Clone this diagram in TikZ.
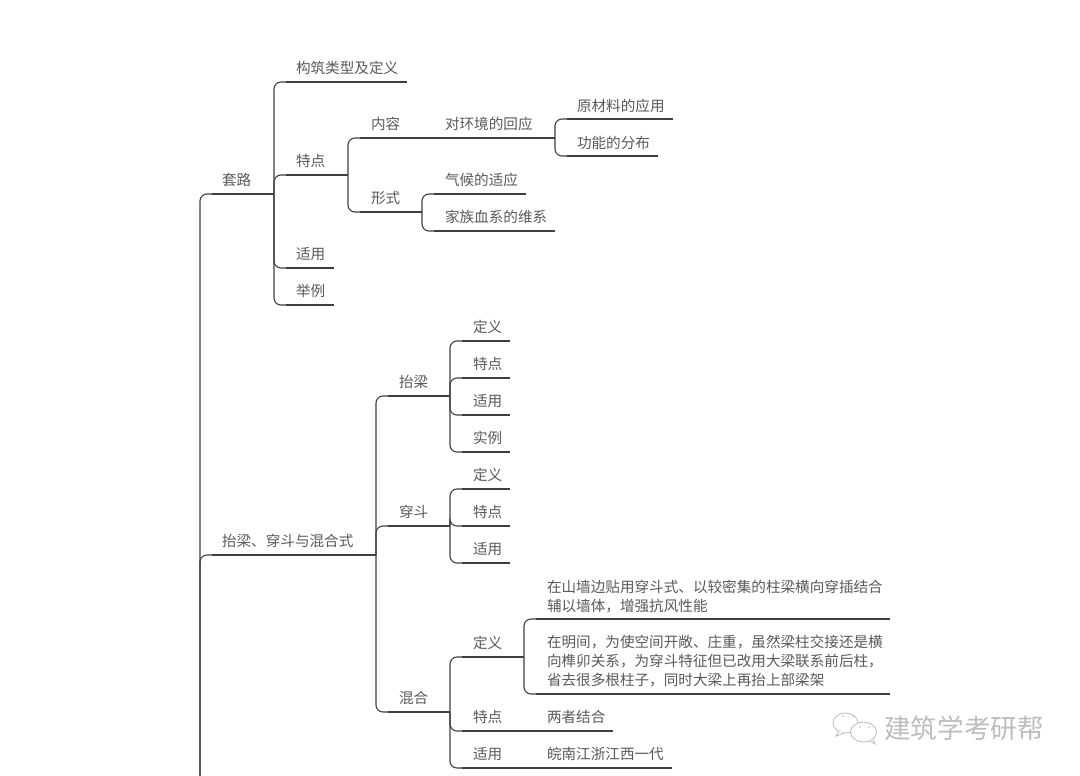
\documentclass[tikz,border=0pt]{standalone}
\usepackage{fontspec}
\setmainfont{Noto Sans CJK SC}
\definecolor{ink}{HTML}{3F3F3F}
\definecolor{txt}{HTML}{5A5A5A}
\definecolor{mark}{HTML}{BDBDBD}
\tikzset{
  topic/.style={anchor=south west,inner sep=0pt,outer sep=0pt,align=left,text=txt,
    font=\fontsize{14.6pt}{19pt}\selectfont},
  uline/.style={draw=ink,line width=1.25pt},
  link/.style={draw=ink,line width=1.1pt,rounded corners=7pt},
  wm/.style={draw=mark,line width=0.8pt,fill=white},
  wmtext/.style={inner sep=0pt,text=mark,font=\fontsize{26.6pt}{30pt}\selectfont},
  wmdot/.style={fill=mark,circle,inner sep=0pt,minimum size=1.6pt}
}
% name, x0, x1, y, text offset, height, text
\newcommand{\topic}[7]{%
  \pgfmathsetmacro{\tw}{#3-#2}%
  \node[topic,text width=\tw pt,minimum height=#6pt] (#1) at (#2,#4) {\hspace*{#5pt}#7};
  \draw[uline] (#1.south west) -- (#1.south east);
}
\newcommand{\branch}[2]{\draw[link] (#1.south east) |- (#2.south west);}
\begin{document}
\begin{tikzpicture}[x=1pt,y=-1pt]
\useasboundingbox (0,0) rectangle (1080,776);
\fill[white] (0,0) rectangle (1080,776);
\coordinate (rootend) at (200,780);
\topic{taolu}{212}{274}{194}{10}{28}{套路}
\topic{gouzhu}{286}{407}{82}{10}{28}{构筑类型及定义}
\topic{tedian}{286}{348}{175}{10}{28}{特点}
\topic{neirong}{360}{408}{138}{11}{28}{内容}
\topic{huanjing}{437}{555}{138}{8}{28}{对环境的回应}
\topic{yuancailiao}{567}{673}{119}{10}{27}{原材料的应用}
\topic{gongneng}{567}{658}{156}{10}{27}{功能的分布}
\topic{xingshi}{360}{422}{212}{11}{28}{形式}
\topic{qihou}{434}{526}{194}{11}{29}{气候的适应}
\topic{jiazu}{434}{555}{231}{11}{29}{家族血系的维系}
\topic{shiyong}{286}{334}{268}{10}{28}{适用}
\topic{juli}{286}{334}{305}{10}{28}{举例}
\topic{hunhe0}{212}{376}{555}{10}{28}{抬梁、穿斗与混合式}
\topic{tailiang}{388}{450}{396}{11}{28}{抬梁}
\topic{tlA}{462}{510}{341}{11}{28}{定义}
\topic{tlB}{462}{510}{378}{11}{28}{特点}
\topic{tlC}{462}{510}{415}{11}{28}{适用}
\topic{tlD}{462}{510}{452}{11}{28}{实例}
\topic{chuandou}{388}{450}{526}{11}{28}{穿斗}
\topic{cdA}{462}{510}{489}{11}{28}{定义}
\topic{cdB}{462}{510}{526}{11}{28}{特点}
\topic{cdC}{462}{510}{563}{11}{28}{适用}
\topic{hunhe}{388}{450}{712}{11}{28}{混合}
\topic{hhA}{462}{524}{657}{11}{28}{定义}
\topic{hhB}{462}{520}{731}{11}{28}{特点}
\topic{hhC}{462}{520}{768}{11}{28}{适用}
\topic{defA}{536}{890}{619}{11}{45}{在山墙边贴用穿斗式、以较密集的柱梁横向穿插结合\\\hspace*{11pt}辅以墙体，增强抗风性能}
\topic{defB}{536}{890}{694}{11}{66}{在明间，为使空间开敞、庄重，虽然梁柱交接还是横\\\hspace*{11pt}向榫卯关系，为穿斗特征但已改用大梁联系前后柱，\\\hspace*{11pt}省去很多根柱子，同时大梁上再抬上部梁架}
\topic{liangzhe}{528}{613}{731}{19}{28}{两者结合}
\topic{wannan}{528}{672}{768}{19}{28}{皖南江浙江西一代}
% connectors
\draw[link] (rootend) |- (taolu.south west);
\draw[link] (rootend) |- (hunhe0.south west);
\branch{taolu}{gouzhu}
\branch{taolu}{tedian}
\branch{taolu}{shiyong}
\branch{taolu}{juli}
\branch{tedian}{neirong}
\branch{tedian}{xingshi}
\draw[link] (neirong.south east) -- (huanjing.south west);
\branch{huanjing}{yuancailiao}
\branch{huanjing}{gongneng}
\branch{xingshi}{qihou}
\branch{xingshi}{jiazu}
\branch{hunhe0}{tailiang}
\branch{hunhe0}{chuandou}
\branch{hunhe0}{hunhe}
\branch{tailiang}{tlA}
\branch{tailiang}{tlB}
\branch{tailiang}{tlC}
\branch{tailiang}{tlD}
\branch{chuandou}{cdA}
\branch{chuandou}{cdB}
\branch{chuandou}{cdC}
\branch{hunhe}{hhA}
\branch{hunhe}{hhB}
\branch{hunhe}{hhC}
\branch{hhA}{defA}
\branch{hhA}{defB}
\draw[link] (hhB.south east) -- (liangzhe.south west);
\draw[link] (hhC.south east) -- (wannan.south west);
% watermark
\node[wmtext,anchor=west] (wmlabel) at (884,728.5) {建筑学考研帮};
\draw[wm] (845.5,723) ellipse (12.5 and 10);
\draw[wm] (839,731) -- (836,736) -- (844,733);
\draw[wm] (863.5,732) ellipse (13 and 10);
\draw[wm] (870,741) -- (875,744) -- (873,739);
\node[wmdot] (d1) at (843,716) {};
\node[wmdot] (d2) at (853,716) {};
\node[wmdot] (d3) at (860,727) {};
\node[wmdot] (d4) at (869,727) {};
\end{tikzpicture}
\end{document}
